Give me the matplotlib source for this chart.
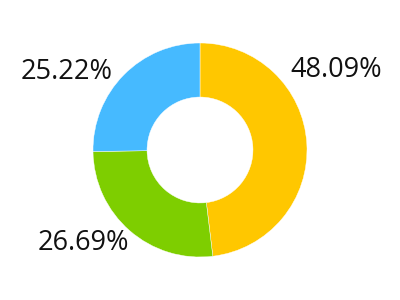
import matplotlib.pyplot as plt

shares = [48.09, 26.69, 25.22]
colors = ["#FFC700", "#7ECE00", "#46BAFF"]
labels = ["48.09%", "26.69%", "25.22%"]
# label centres in units of the outer radius
label_pos = [(1.27, 0.75), (-1.09, -0.87), (-1.25, 0.73)]

fig = plt.figure(figsize=(4, 3), dpi=100)
ax = fig.add_axes([0, 0, 1, 1])

ax.pie(shares, colors=colors, startangle=90, counterclock=False, radius=1.0,
       wedgeprops=dict(width=0.505, edgecolor="white", linewidth=0.3))

for lab, (x, y) in zip(labels, label_pos):
    ax.text(x, y, lab, ha="center", va="center", fontsize=19.5,
            family=["Open Sans", "DejaVu Sans"], color="#111111")

ax.set_xlim(-200 / 107, 200 / 107)
ax.set_ylim(-150 / 107, 150 / 107)
ax.set_aspect("equal")
ax.axis("off")

fig.savefig("out.png", dpi=100)
